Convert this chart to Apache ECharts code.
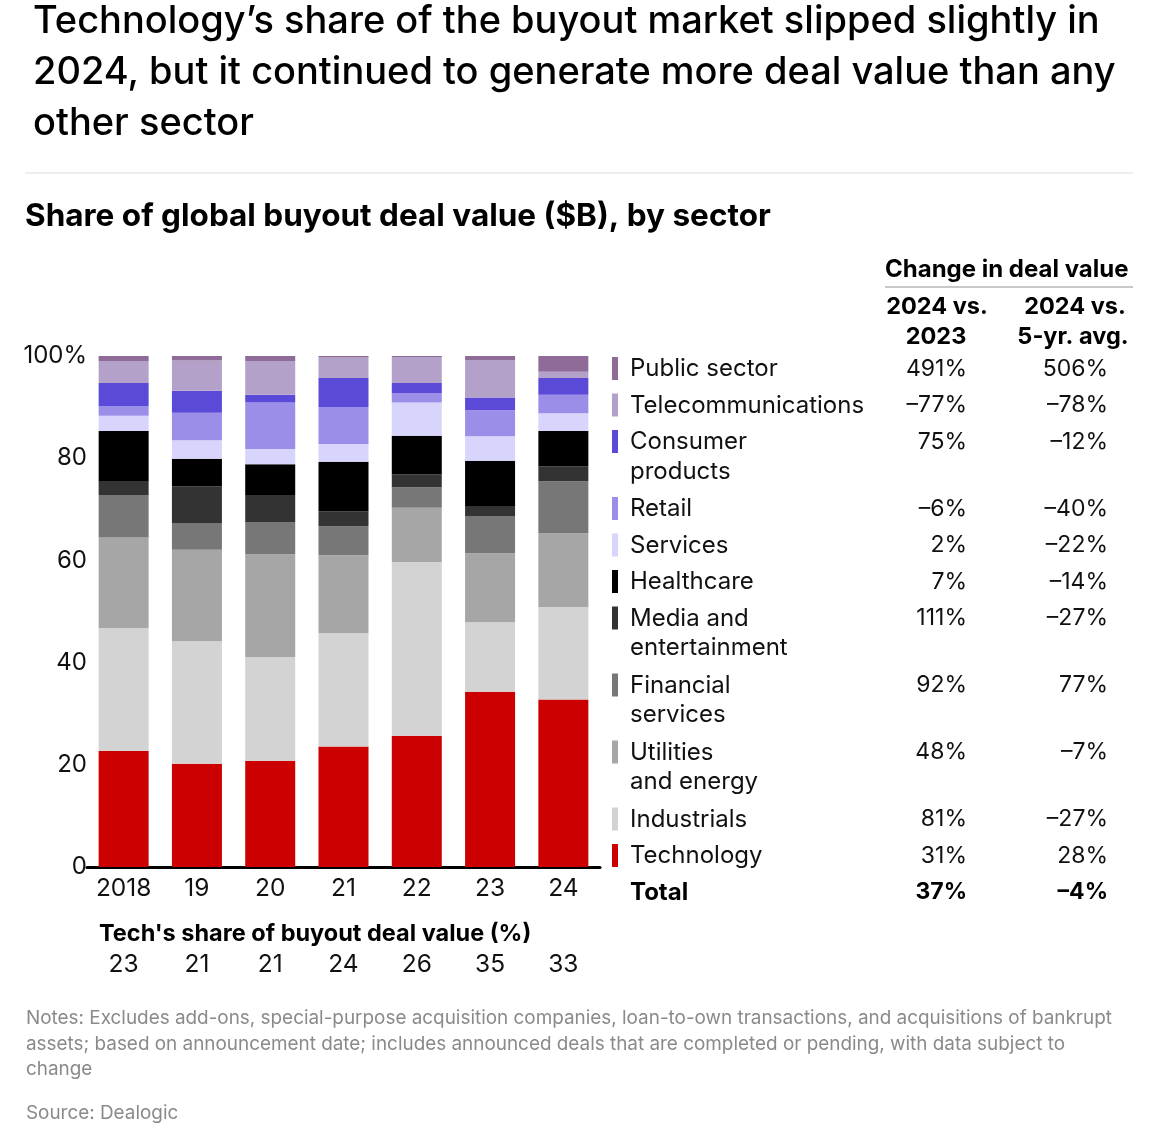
<!DOCTYPE html>
<html>
<head>
<meta charset="utf-8">
<script src="https://cdn.jsdelivr.net/npm/echarts@6/dist/echarts.min.js"></script>
<style>
html, body { margin: 0; padding: 0; background: #fff; }
#main { width: 1166px; height: 1132px; }
</style>
</head>
<body>
<div id="main"></div>
<script>
// categories and tick labels
var years = ['2018', '19', '20', '21', '22', '23', '24'];
var techShare = ['23', '21', '21', '24', '26', '35', '33'];

// share of deal value (%) per sector, bottom of the stack first
var technology  = [22.7, 20.2, 20.8, 23.6, 25.7, 34.3, 32.8];
var industrials = [24.0, 24.0, 20.3, 22.2, 34.0, 13.6, 18.1];
var utilities   = [17.8, 17.9, 20.1, 15.2, 10.6, 13.5, 14.4];
var financial   = [8.3, 5.1, 6.3, 5.7, 4.0, 7.3, 10.2];
var media       = [2.6, 7.3, 5.3, 2.9, 2.5, 1.8, 2.9];
var healthcare  = [9.9, 5.4, 6.0, 9.7, 7.6, 9.0, 6.9];
var services    = [3.0, 3.6, 3.0, 3.5, 6.5, 4.8, 3.5];
var retail      = [1.9, 5.4, 9.1, 7.2, 1.8, 5.1, 3.6];
var consumer    = [4.5, 4.3, 1.5, 5.7, 2.0, 2.5, 3.3];
var telecom     = [4.3, 5.9, 6.6, 4.0, 5.1, 7.3, 1.2];
var publicSec   = [1.0, 0.9, 1.0, 0.3, 0.2, 0.8, 3.1];

// legend / table, top row first
var sectorNames = ['Public sector', 'Telecommunications', 'Consumer\nproducts', 'Retail', 'Services',
  'Healthcare', 'Media and\nentertainment', 'Financial\nservices', 'Utilities\nand energy',
  'Industrials', 'Technology'];
var sectorColors = ['#8e6c97', '#b3a1ca', '#5b49d8', '#9a8ee8', '#d7d5fb',
  '#000000', '#333333', '#777777', '#a6a6a6', '#d3d3d3', '#cc0000'];
var sectorValues = [publicSec, telecom, consumer, retail, services,
  healthcare, media, financial, utilities, industrials, technology];
var vs2023 = ['491%', '–77%', '75%', '–6%', '2%', '7%', '111%', '92%', '48%', '81%', '31%'];
var vs5yr  = ['506%', '–78%', '–12%', '–40%', '–22%', '–14%', '–27%', '77%', '–7%', '–27%', '28%'];
var totalChange = ['37%', '–4%'];

var FONT = 'Inter, "Noto Sans", sans-serif';

var series = [];
for (var i = sectorNames.length - 1; i >= 0; i--) {
  series.push({
    name: sectorNames[i].replace('\n', ' '),
    type: 'bar',
    stack: 'share',
    barWidth: 50,
    data: sectorValues[i],
    itemStyle: { color: sectorColors[i] },
    silent: true
  });
}

function txt(str, x, y, font, fill, align) {
  return {
    type: 'text',
    style: {
      text: str, x: x, y: y, font: font, fill: fill || '#111',
      textAlign: align || 'left', align: align || 'left',
      textVerticalAlign: 'middle', verticalAlign: 'middle'
    }
  };
}

var els = [];
// headline
els.push(txt('Technology’s share of the buyout market slipped slightly in', 33, 22, '500 38px ' + FONT, '#000'));
els.push(txt('2024, but it continued to generate more deal value than any', 33, 73, '500 38px ' + FONT, '#000'));
els.push(txt('other sector', 33, 124, '500 38px ' + FONT, '#000'));
els.push({ type: 'line', shape: { x1: 25, y1: 173, x2: 1133, y2: 173 }, style: { stroke: '#dcdcdc', lineWidth: 1 } });
els.push(txt('Share of global buyout deal value ($B), by sector', 25, 217, '700 31.5px ' + FONT, '#000'));

// table header
els.push(txt('Change in deal value', 885, 270, '700 24px ' + FONT, '#000'));
els.push({ type: 'line', shape: { x1: 885, y1: 287, x2: 1133, y2: 287 }, style: { stroke: '#c8c8c8', lineWidth: 2 } });
els.push(txt('2024 vs.', 937, 307, '700 23.5px ' + FONT, '#000', 'center'));
els.push(txt('2023', 936, 337, '700 23.5px ' + FONT, '#000', 'center'));
els.push(txt('2024 vs.', 1075, 307, '700 23.5px ' + FONT, '#000', 'center'));
els.push(txt('5-yr. avg.', 1073, 337, '700 23.5px ' + FONT, '#000', 'center'));

// legend rows
var rowY = 369;
for (var r = 0; r < sectorNames.length; r++) {
  var lines = sectorNames[r].split('\n');
  els.push({ type: 'rect', shape: { x: 612, y: rowY - 12, width: 6, height: 23 }, style: { fill: sectorColors[r] } });
  for (var l = 0; l < lines.length; l++) {
    els.push(txt(lines[l], 630, rowY + l * 29.5, '400 24px ' + FONT, '#111'));
  }
  els.push(txt(vs2023[r], 967, rowY, '400 23px ' + FONT, '#111', 'right'));
  els.push(txt(vs5yr[r], 1108, rowY, '400 23px ' + FONT, '#111', 'right'));
  rowY += 36.5 + (lines.length - 1) * 30.5;
}
els.push(txt('Total', 630, rowY, '700 24px ' + FONT, '#000'));
els.push(txt(totalChange[0], 967, rowY, '700 23px ' + FONT, '#000', 'right'));
els.push(txt(totalChange[1], 1108, rowY, '700 23px ' + FONT, '#000', 'right'));

// tech share caption
els.push(txt('Tech\'s share of buyout deal value (%)', 99, 934, '700 23.5px ' + FONT, '#000'));

// notes
var noteColor = '#8a8a8a';
els.push(txt('Notes: Excludes add-ons, special-purpose acquisition companies, loan-to-own transactions, and acquisitions of bankrupt', 26, 1018, '400 18.9px ' + FONT, noteColor));
els.push(txt('assets; based on announcement date; includes announced deals that are completed or pending, with data subject to', 26, 1044, '400 18.9px ' + FONT, noteColor));
els.push(txt('change', 26, 1069, '400 18.9px ' + FONT, noteColor));
els.push(txt('Source: Dealogic', 26, 1113, '400 18.9px ' + FONT, noteColor));

var chart = echarts.init(document.getElementById('main'));
chart.setOption({
  animation: false,
  backgroundColor: '#fff',
  textStyle: { fontFamily: FONT },
  grid: { left: 87, top: 356, width: 513, height: 511, containLabel: false },
  xAxis: [{
    type: 'category',
    data: years,
    axisLine: { lineStyle: { color: '#000', width: 3 } },
    axisTick: { show: false },
    axisLabel: { interval: 0, fontSize: 24.5, color: '#111', margin: 9, fontFamily: FONT }
  }, {
    type: 'category',
    data: techShare,
    position: 'bottom',
    offset: 85,
    axisLine: { show: false },
    axisTick: { show: false },
    axisLabel: { interval: 0, fontSize: 24.5, color: '#111', margin: 0, fontFamily: FONT }
  }],
  yAxis: {
    type: 'value',
    min: 0,
    max: 100,
    interval: 20,
    splitLine: { show: false },
    axisLine: { show: false },
    axisTick: { show: false },
    axisLabel: {
      fontSize: 24, color: '#111', margin: 0, fontFamily: FONT,
      padding: [0, 0, 8, 0],
      formatter: function (v) { return v === 100 ? '100%' : v; }
    }
  },
  series: series,
  graphic: { elements: els }
});
</script>
</body>
</html>
